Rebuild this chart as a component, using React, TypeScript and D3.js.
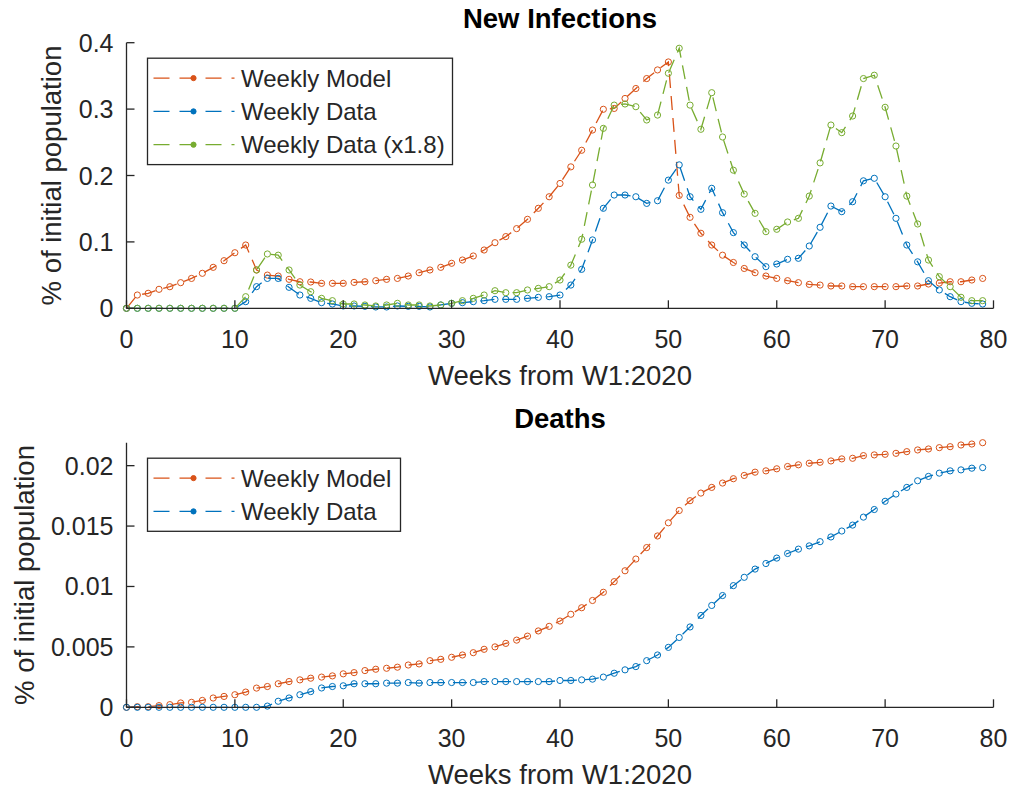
import React from "react";
import * as d3 from "d3";

const weeks: number[] = d3.range(0, 80);

const infModel: number[] = [
  0, 0.020, 0.0226, 0.0286, 0.0325, 0.0386, 0.045, 0.0527, 0.0617, 0.0717,
  0.0837, 0.0953, 0.0577, 0.050, 0.0486, 0.0436, 0.040, 0.0396, 0.0376, 0.0376,
  0.0376, 0.039, 0.040, 0.0416, 0.0436, 0.045, 0.0486, 0.0536, 0.0577, 0.0617,
  0.0678, 0.0727, 0.0788, 0.0878, 0.0988, 0.108, 0.120, 0.134, 0.1506, 0.168,
  0.188, 0.213, 0.238, 0.2685, 0.2997, 0.301, 0.316, 0.331, 0.346, 0.359,
  0.371, 0.170, 0.137, 0.113, 0.0953, 0.080, 0.069, 0.060, 0.0536, 0.0486,
  0.045, 0.0416, 0.0386, 0.036, 0.035, 0.0336, 0.0336, 0.0326, 0.0326, 0.0326,
  0.0326, 0.0326, 0.0336, 0.0336, 0.0366, 0.038, 0.040, 0.040, 0.0426, 0.045,
];

const infData: number[] = [
  0, 0, 0, 0, 0, 0, 0, 0, 0, 0,
  0, 0.010, 0.0326, 0.045, 0.045, 0.0316, 0.020, 0.015, 0.0085, 0.0065,
  0.0035, 0.0035, 0.003, 0.002, 0.002, 0.0035, 0.003, 0.003, 0.002, 0.005,
  0.0075, 0.0085, 0.010, 0.0115, 0.0135, 0.0135, 0.0135, 0.015, 0.0165, 0.0175,
  0.020, 0.035, 0.0587, 0.103, 0.1506, 0.1706, 0.1706, 0.168, 0.158, 0.162,
  0.193, 0.216, 0.168, 0.149, 0.1807, 0.144, 0.114, 0.0953, 0.0777, 0.0627,
  0.0667, 0.0738, 0.0753, 0.0938, 0.122, 0.154, 0.1455, 0.1605, 0.192, 0.1958,
  0.168, 0.1355, 0.0953, 0.070, 0.0416, 0.0276, 0.0175, 0.010, 0.0075, 0.0065,
];

const infDataScaled: number[] = [
  0, 0, 0, 0, 0, 0, 0, 0, 0, 0,
  0, 0.0175, 0.0577, 0.0818, 0.080, 0.0577, 0.035, 0.025, 0.015, 0.0115,
  0.0065, 0.0065, 0.005, 0.0035, 0.005, 0.0075, 0.005, 0.005, 0.0035, 0.005,
  0.0075, 0.0115, 0.015, 0.020, 0.0265, 0.0235, 0.0235, 0.0276, 0.030, 0.0326,
  0.0426, 0.065, 0.104, 0.1857, 0.271, 0.306, 0.3077, 0.3036, 0.2836, 0.291,
  0.354, 0.3916, 0.306, 0.2696, 0.3247, 0.258, 0.208, 0.172, 0.143, 0.1154,
  0.119, 0.130, 0.1355, 0.169, 0.219, 0.276, 0.2645, 0.2896, 0.346, 0.351,
  0.3027, 0.2444, 0.169, 0.127, 0.0727, 0.0476, 0.0326, 0.0166, 0.0115, 0.0115,
];

const deathModel: number[] = [
  0, 0.00005, 0.00005, 0.00014, 0.00022, 0.00036, 0.00041, 0.00057, 0.00077, 0.0009,
  0.00104, 0.00126, 0.00159, 0.00172, 0.00195, 0.00213, 0.00227, 0.00241, 0.0025, 0.0026,
  0.00277, 0.00287, 0.00304, 0.00315, 0.00323, 0.00332, 0.0035, 0.00359, 0.00386, 0.00397,
  0.00414, 0.00433, 0.00452, 0.0048, 0.005, 0.00529, 0.00556, 0.00589, 0.00632, 0.0067,
  0.00714, 0.0077, 0.00824, 0.00884, 0.00952, 0.0104, 0.0113, 0.01227, 0.01322, 0.01418,
  0.01527, 0.01629, 0.0171, 0.01773, 0.0182, 0.01856, 0.01892, 0.01919, 0.01946, 0.01957,
  0.01974, 0.01993, 0.02007, 0.0202, 0.02028, 0.02039, 0.02056, 0.02061, 0.02083, 0.02089,
  0.02094, 0.02102, 0.02116, 0.0213, 0.02138, 0.02149, 0.02157, 0.02171, 0.02179, 0.0219,
];

const deathData: number[] = [
  0, 0, 0, 0, 0, 0, 0, 0, 0, 0,
  0, 0, 0, 0.0001, 0.0005, 0.00077, 0.00104, 0.0013, 0.0016, 0.00172,
  0.00178, 0.00195, 0.00195, 0.00195, 0.002, 0.002, 0.00205, 0.002, 0.00205, 0.00205,
  0.00205, 0.00205, 0.00205, 0.00213, 0.00213, 0.00213, 0.00213, 0.00213, 0.00213, 0.00213,
  0.00222, 0.00222, 0.00227, 0.00233, 0.0025, 0.00282, 0.0031, 0.00337, 0.00386, 0.00433,
  0.00496, 0.00578, 0.00665, 0.0076, 0.00843, 0.00925, 0.01007, 0.01076, 0.01144, 0.0119,
  0.01235, 0.01273, 0.01309, 0.01336, 0.01371, 0.0141, 0.01459, 0.01508, 0.01574, 0.01637,
  0.01705, 0.01765, 0.0182, 0.01875, 0.01911, 0.01938, 0.01957, 0.01965, 0.01979, 0.01984,
];

const xTicks: number[] = [0, 10, 20, 30, 40, 50, 60, 70, 80];
const infYTicks: number[] = [0, 0.1, 0.2, 0.3, 0.4];
const infYTickLabels: string[] = ["0", "0.1", "0.2", "0.3", "0.4"];
const deathYTicks: number[] = [0, 0.005, 0.01, 0.015, 0.02];
const deathYTickLabels: string[] = ["0", "0.005", "0.01", "0.015", "0.02"];

const infLegend: string[] = ["Weekly Model", "Weekly Data", "Weekly Data (x1.8)"];
const deathLegend: string[] = ["Weekly Model", "Weekly Data"];
const seriesColors: string[] = ["#D95319", "#0072BD", "#77AC30"];

const FONT = "'Liberation Sans', Arial, Helvetica, sans-serif";
const AX = "#262626";
const DASH = "14,8";

type PanelProps = {
  title: string;
  top: number;
  bottom: number;
  yMax: number;
  yTicks: number[];
  yTickLabels: string[];
  series: number[][];
  legend: string[];
  legendWidth: number;
  ylabelX: number;
};

const LEFT = 126.5;
const RIGHT = 993.5;

function Panel(p: PanelProps) {
  const x = d3.scaleLinear().domain([0, 80]).range([LEFT, RIGHT]);
  const y = d3.scaleLinear().domain([0, p.yMax]).range([p.bottom, p.top]);
  const line = d3
    .line<number>()
    .x((_, i) => x(weeks[i]))
    .y((d) => y(d));
  const tickLen = 8;
  const lgX = LEFT + 21;
  const lgY = p.top + 15.5;
  const rowH = 33.3;
  const lgH = rowH * p.legend.length + 6.5;
  return (
    <g>
      <text
        x={(LEFT + RIGHT) / 2}
        y={p.top - 14.5}
        textAnchor="middle"
        fontFamily={FONT}
        fontWeight="bold"
        fontSize={27.5}
        fill="#000"
      >
        {p.title}
      </text>
      {p.series.map((s, si) => (
        <g key={si}>
          <path
            d={line(s) || ""}
            fill="none"
            stroke={seriesColors[si]}
            strokeWidth={1.3}
            strokeDasharray={DASH}
          />
          {s.map((v, i) => (
            <circle
              key={i}
              cx={x(weeks[i])}
              cy={y(v)}
              r={3.1}
              fill="none"
              stroke={seriesColors[si]}
              strokeWidth={1}
            />
          ))}
        </g>
      ))}
      {/* axes */}
      <line x1={LEFT} x2={RIGHT} y1={p.bottom} y2={p.bottom} stroke={AX} strokeWidth={1.3} />
      <line x1={LEFT} x2={LEFT} y1={p.top} y2={p.bottom} stroke={AX} strokeWidth={1.3} />
      {xTicks.map((t) => (
        <g key={"x" + t}>
          <line x1={x(t)} x2={x(t)} y1={p.bottom} y2={p.bottom - tickLen} stroke={AX} strokeWidth={1.3} />
          <text
            x={x(t)}
            y={p.bottom + 40}
            textAnchor="middle"
            fontFamily={FONT}
            fontSize={25}
            fill={AX}
          >
            {t}
          </text>
        </g>
      ))}
      {p.yTicks.map((t, i) => (
        <g key={"y" + t}>
          <line x1={LEFT} x2={LEFT + tickLen} y1={y(t)} y2={y(t)} stroke={AX} strokeWidth={1.3} />
          <text
            x={LEFT - 13}
            y={y(t) + 9}
            textAnchor="end"
            fontFamily={FONT}
            fontSize={25}
            fill={AX}
          >
            {p.yTickLabels[i]}
          </text>
        </g>
      ))}
      <text
        x={(LEFT + RIGHT) / 2}
        y={p.bottom + 77}
        textAnchor="middle"
        fontFamily={FONT}
        fontSize={27.5}
        fill={AX}
      >
        Weeks from W1:2020
      </text>
      <text
        transform={`translate(${p.ylabelX},${(p.top + p.bottom) / 2}) rotate(-90)`}
        textAnchor="middle"
        fontFamily={FONT}
        fontSize={27.5}
        fill={AX}
      >
        % of initial population
      </text>
      {/* legend */}
      <rect x={lgX} y={lgY} width={p.legendWidth} height={lgH} fill="#fff" stroke={AX} strokeWidth={1.3} />
      {p.legend.map((name, i) => {
        const ry = lgY + lgH / 2 + (i - (p.legend.length - 1) / 2) * rowH;
        return (
          <g key={name}>
            <line
              x1={lgX + 6}
              x2={lgX + 87}
              y1={ry}
              y2={ry}
              stroke={seriesColors[i]}
              strokeWidth={1.3}
              strokeDasharray="16,10"
            />
            <circle cx={lgX + 46} cy={ry} r={2.6} fill={seriesColors[i]} stroke={seriesColors[i]} />
            <text
              x={lgX + 93.5}
              y={ry + 8.5}
              fontFamily={FONT}
              fontSize={24}
              fill={AX}
            >
              {name}
            </text>
          </g>
        );
      })}
    </g>
  );
}

export default function App() {
  return (
    <svg
      width={1013}
      height={791}
      style={{ position: "absolute", left: 0, top: 0, background: "#fff" }}
    >
      <rect x={0} y={0} width={1013} height={791} fill="#fff" />
      <Panel
        title="New Infections"
        top={42.7}
        bottom={308.3}
        yMax={0.4}
        yTicks={infYTicks}
        yTickLabels={infYTickLabels}
        series={[infModel, infData, infDataScaled]}
        legend={infLegend}
        legendWidth={305}
        ylabelX={61}
      />
      <Panel
        title="Deaths"
        top={442.7}
        bottom={707.3}
        yMax={0.0219}
        yTicks={deathYTicks}
        yTickLabels={deathYTickLabels}
        series={[deathModel, deathData]}
        legend={deathLegend}
        legendWidth={253}
        ylabelX={34}
      />
    </svg>
  );
}
